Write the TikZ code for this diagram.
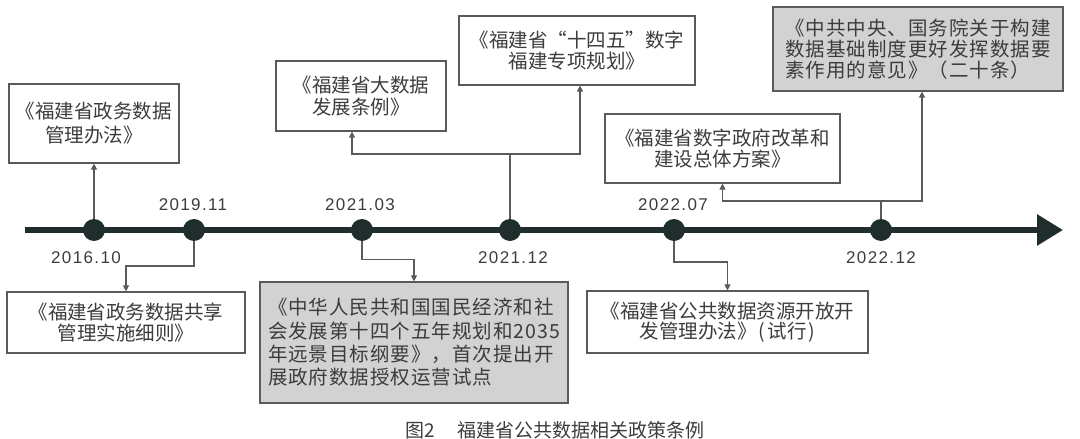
\documentclass[tikz,border=0pt]{standalone}
\usepackage{fontspec}
\setmainfont{Noto Sans CJK SC}
\newfontfamily\datefont[LetterSpace=8]{Liberation Sans}
\newfontfamily\widecjk[LetterSpace=5]{Noto Sans CJK SC}
\usetikzlibrary{arrows.meta}
\definecolor{tl}{HTML}{1F2D2D}
\definecolor{bd}{HTML}{5A5A5A}
\definecolor{gf}{HTML}{D2D2D2}
\definecolor{tx}{HTML}{3C3C3C}
\begin{document}
\begin{tikzpicture}[x=1pt,y=-1pt,
 box/.style={draw=bd,line width=1.2pt,inner sep=0pt,align=center,text=tx,font=\fontsize{19.5}{20.5}\selectfont},
 graybox/.style={box,fill=gf},
 conn/.style={draw=bd,line width=1.1pt,-{Triangle[width=6pt,length=6pt]}},
 dot/.style={circle,fill=tl,minimum size=22pt,inner sep=0pt},
 datelbl/.style={text=tx,font=\datefont\fontsize{17}{17}\selectfont,inner sep=0pt}]
\useasboundingbox (0,0) rectangle (1080,439);
% axis
\coordinate (ax0) at (25,230);
\coordinate (ax1) at (1063,230);
\draw[tl,line width=6pt,-{Triangle[width=30pt,length=26pt]}] (ax0) -- (ax1);
% boxes
\node[box,minimum width=170pt,minimum height=79pt,font=\fontsize{19.5}{24}\selectfont] (A) at (94,123.5) {《福建省政务数据\\管理办法》};
\node[box,minimum width=170pt,minimum height=70pt,font=\fontsize{19.5}{22}\selectfont] (B) at (361,96) {《福建省大数据\\发展条例》};
\node[box,minimum width=236pt,minimum height=69pt] (C) at (577,50.5) {《福建省“十四五”数字\\福建专项规划》};
\node[box,minimum width=235pt,minimum height=69pt] (D) at (722.5,148.5) {《福建省数字政府改革和\\建设总体方案》};
\node[graybox,minimum width=290pt,minimum height=84pt,align=left,font=\widecjk\fontsize{19.5}{21}\selectfont] (E) at (918,49) {《中共中央、国务院关于构建\\数据基础制度更好发挥数据要\\素作用的意见》（二十条）};
\node[box,minimum width=238pt,minimum height=61pt] (F) at (126,322.5) {《福建省政务数据共享\\管理实施细则》};
\node[graybox,minimum width=308pt,minimum height=121pt,align=left,font=\widecjk\fontsize{19.5}{23.3}\selectfont] (G) at (414,342.5) {《中华人民共和国国民经济和社\\会发展第十四个五年规划和2035\\年远景目标纲要》，首次提出开\\展政府数据授权运营试点};
\node[box,minimum width=281pt,minimum height=62pt] (H) at (727.5,322) {《福建省公共数据资源开放开\\发管理办法》\kern2pt(\kern2pt 试行\kern2pt)};
% junctions
\coordinate (j2) at (194,266);
\coordinate (j3) at (362,259.5);
\coordinate (j4) at (510,154);
\coordinate (j5) at (674,262);
\coordinate (j6) at (881,201);
% dots
\node[dot] (d1) at (94,230) {};
\node[dot] (d2) at (194,230) {};
\node[dot] (d3) at (362,230) {};
\node[dot] (d4) at (510,230) {};
\node[dot] (d5) at (674,230) {};
\node[dot] (d6) at (881,230) {};
% connectors
\draw[conn] (d1) -- (A.south);
\draw[conn] (d2) -- (j2) -| (F.north);
\draw[conn] (d3) -- (j3) -| (G.north);
\draw[conn] (d4) -- (j4) -| ([xshift=-9pt]B.south);
\draw[conn] (j4) -| ([xshift=3pt]C.south);
\draw[conn] (d5) -- (j5) -| (H.north);
\draw[conn] (d6) -- (j6) -| (D.south);
\draw[conn] (j6) -| ([xshift=4pt]E.south);
% dates
\node[datelbl] (t1) at (86,258) {2016.10};
\node[datelbl] (t2) at (193,205) {2019.11};
\node[datelbl] (t3) at (360,205) {2021.03};
\node[datelbl] (t4) at (513,258) {2021.12};
\node[datelbl] (t5) at (673,205) {2022.07};
\node[datelbl] (t6) at (881,258) {2022.12};
% caption
\node[anchor=west,inner sep=0pt,text=tx,font=\fontsize{19}{19}\selectfont] (cap) at (405,430) {图2\hspace{1.2em}福建省公共数据相关政策条例};
\end{tikzpicture}
\end{document}
